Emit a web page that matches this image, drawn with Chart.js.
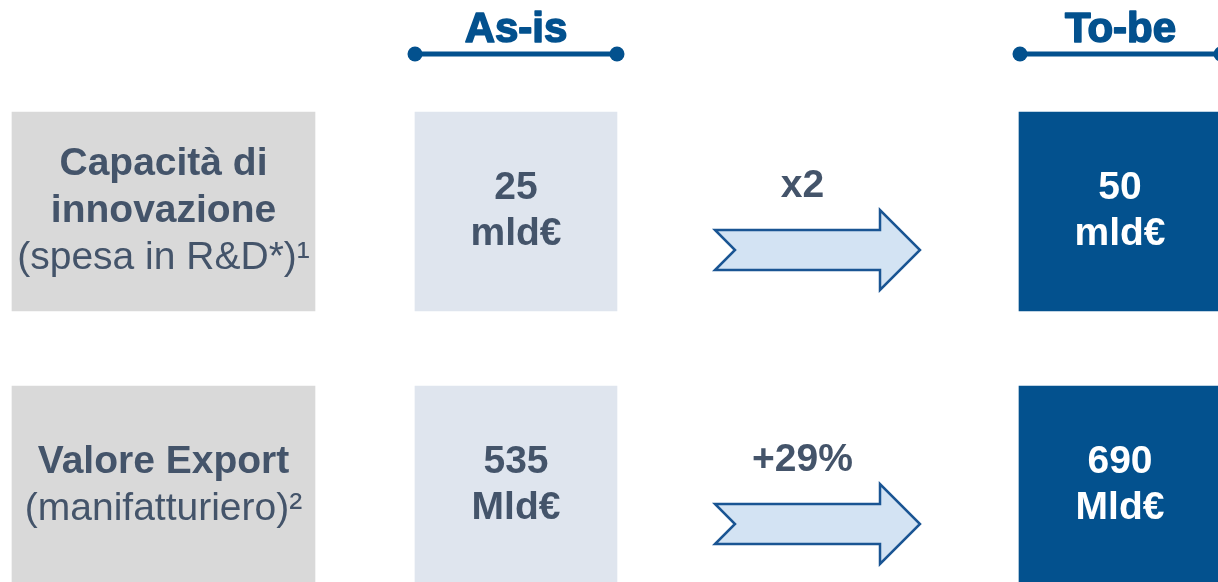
<!DOCTYPE html>
<html lang="it">
<head>
    <meta charset="UTF-8">
    <title>As-is / To-be</title>
    <script src="https://cdn.jsdelivr.net/npm/chart.js"></script>
    <style>
        html, body { margin: 0; padding: 0; background: #fff; overflow: hidden; }
    </style>
</head>
<body>
    <canvas id="slideChart" width="1218" height="582"></canvas>

    <script>
        const categories = [['Capacità di', 'innovazione'], ['Valore Export']];
        const categoryNotes = ['(spesa in R&D*)¹', '(manifatturiero)²'];
        const asIsValues = [25, 535];
        const toBeValues = [50, 690];
        const units = ['mld€', 'Mld€'];
        const changeLabels = ['x2', '+29%'];
        const headers = ['As-is', 'To-be'];

        // colonne della griglia, in unita' dell'asse x (0..1218)
        const cols = {
            label: [12, 315],
            asIs: [415, 617],
            arrow: [715, 920],
            toBe: [1019, 1240]
        };
        const headerSpan = [[415, 617], [1020, 1221]];

        const slate = '#44546A';
        const blue = '#03518E';
        const font = '"Liberation Sans", Arial, sans-serif';

        function drawLines(ctx, lines, cx, cy, lineHeight) {
            const first = cy - (lines.length - 1) * lineHeight / 2;
            lines.forEach((line, k) => {
                ctx.font = line.font;
                ctx.fillText(line.text, cx, first + k * lineHeight);
            });
        }

        function drawArrow(ctx, x0, x1, cy) {
            const headBase = x1 - 40;
            const notch = x0 + 20;
            const shaft = 20, head = 40;
            ctx.beginPath();
            ctx.moveTo(x0, cy - shaft);
            ctx.lineTo(headBase, cy - shaft);
            ctx.lineTo(headBase, cy - head);
            ctx.lineTo(x1, cy);
            ctx.lineTo(headBase, cy + head);
            ctx.lineTo(headBase, cy + shaft);
            ctx.lineTo(x0, cy + shaft);
            ctx.lineTo(notch, cy);
            ctx.closePath();
            ctx.fillStyle = '#D3E3F3';
            ctx.fill();
            ctx.lineWidth = 2.5;
            ctx.lineJoin = 'miter';
            ctx.strokeStyle = '#1A5593';
            ctx.stroke();
        }

        const slidePlugin = {
            id: 'slideText',
            afterDatasetsDraw(chart) {
                const { ctx, scales: { x } } = chart;
                const labelBars = chart.getDatasetMeta(0).data;
                const asIsBars = chart.getDatasetMeta(1).data;
                const toBeBars = chart.getDatasetMeta(2).data;

                ctx.save();
                ctx.textAlign = 'center';
                ctx.textBaseline = 'middle';

                // intestazioni colonne
                const boxTop = labelBars[0].y - labelBars[0].height / 2;
                headerSpan.forEach((span, k) => {
                    const a = x.getPixelForValue(span[0]);
                    const b = x.getPixelForValue(span[1]);
                    ctx.fillStyle = blue;
                    ctx.strokeStyle = blue;
                    ctx.font = 'bold 42px ' + font;
                    ctx.lineWidth = 1.6;
                    ctx.lineJoin = 'round';
                    ctx.fillText(headers[k], (a + b) / 2, boxTop - 82);
                    ctx.strokeText(headers[k], (a + b) / 2, boxTop - 82);
                    ctx.lineWidth = 5;
                    ctx.beginPath();
                    ctx.moveTo(a, boxTop - 58);
                    ctx.lineTo(b, boxTop - 58);
                    ctx.stroke();
                    [a, b].forEach(px => {
                        ctx.beginPath();
                        ctx.arc(px, boxTop - 58, 7.5, 0, Math.PI * 2);
                        ctx.fill();
                    });
                });

                categories.forEach((cat, i) => {
                    // etichetta riga
                    const lb = labelBars[i];
                    const lines = cat.map(t => ({ text: t, font: 'bold 39px ' + font }));
                    lines.push({ text: categoryNotes[i], font: '39px ' + font });
                    ctx.fillStyle = slate;
                    drawLines(ctx, lines, (lb.x + lb.base) / 2, lb.y, 47);

                    // valore as-is
                    const ab = asIsBars[i];
                    drawLines(ctx, [
                        { text: String(asIsValues[i]), font: 'bold 39px ' + font },
                        { text: units[i], font: 'bold 39px ' + font }
                    ], (ab.x + ab.base) / 2, ab.y, 46);

                    // valore to-be (box tagliato dal bordo destro)
                    const tb = toBeBars[i];
                    ctx.fillStyle = '#ffffff';
                    drawLines(ctx, [
                        { text: String(toBeValues[i]), font: 'bold 39px ' + font },
                        { text: units[i], font: 'bold 39px ' + font }
                    ], (x.getPixelForValue(cols.toBe[0]) + x.getPixelForValue(1221)) / 2, tb.y, 46);

                    // freccia e variazione
                    const x0 = x.getPixelForValue(cols.arrow[0]);
                    const x1 = x.getPixelForValue(cols.arrow[1]);
                    drawArrow(ctx, x0, x1, lb.y + 38.5);
                    ctx.fillStyle = slate;
                    ctx.font = 'bold 39px ' + font;
                    ctx.fillText(changeLabels[i], (x0 + x1 - 40) / 2 + 5, lb.y - 25);
                });

                ctx.restore();
            }
        };

        const rowLabels = categories.map(c => c.join(' '));
        const boxOpts = { barThickness: 199, grouped: false, borderWidth: 0, borderSkipped: false, clip: false };

        new Chart(document.getElementById('slideChart'), {
            type: 'bar',
            data: {
                labels: rowLabels,
                datasets: [
                    { label: 'Indicatore', data: rowLabels.map(() => cols.label), backgroundColor: '#D9D9D9', ...boxOpts },
                    { label: headers[0], data: asIsValues.map(() => cols.asIs), backgroundColor: '#DFE5EE', ...boxOpts },
                    { label: headers[1], data: toBeValues.map(() => cols.toBe), backgroundColor: blue, ...boxOpts }
                ]
            },
            options: {
                indexAxis: 'y',
                responsive: false,
                animation: false,
                layout: { padding: { top: 211.5, bottom: 96.5, left: 0, right: 0 } },
                scales: {
                    x: { type: 'linear', min: 0, max: 1218, display: false },
                    y: { type: 'category', offset: false, display: false }
                },
                plugins: {
                    legend: { display: false },
                    tooltip: { enabled: false }
                }
            },
            plugins: [slidePlugin]
        });
    </script>
</body>
</html>
